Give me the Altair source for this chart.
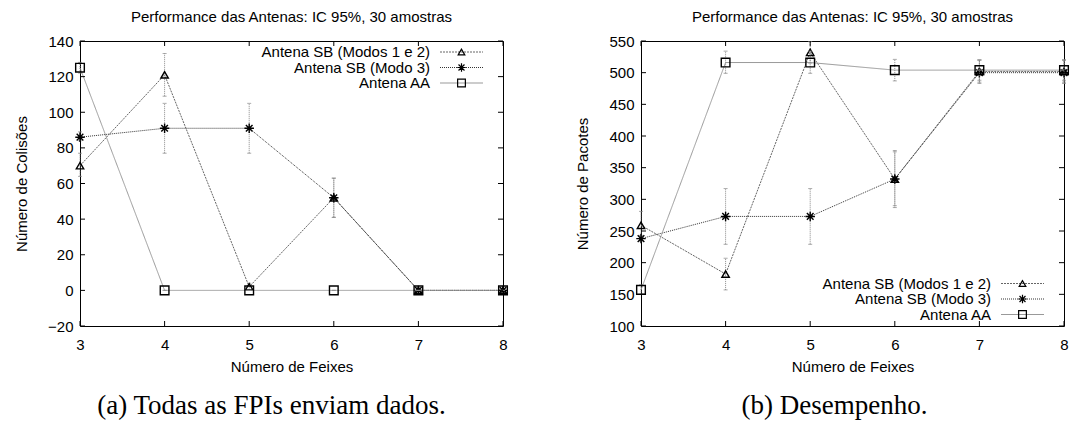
import altair as alt
import pandas as pd

# ---------------- data ----------------
beams = [3, 4, 5, 6, 7, 8]
series_names = ["Antena SB (Modos 1 e 2)", "Antena SB (Modo 3)", "Antena AA"]

# (a) Número de Colisões
col_sb12 = [70, 121, 2, 52, 0, 0]
col_sb12_lo = [64, 109, 0, 41, 0, 0]
col_sb12_hi = [77, 133, 4, 63, 0, 0]
col_sb3 = [86, 91, 91, 52, 0, 0]
col_sb3_lo = [84, 77, 77, 41, 0, 0]
col_sb3_hi = [89, 105, 105, 63, 0, 0]
col_aa = [125, 0, 0, 0, 0, 0]
col_aa_lo = [122, 0, 0, 0, 0, 0]
col_aa_hi = [128, 0, 0, 0, 0, 0]

# (b) Número de Pacotes
pac_sb12 = [259, 182, 532, 332, 502, 502]
pac_sb12_lo = [238, 157, 515, 290, 485, 485]
pac_sb12_hi = [281, 207, 549, 375, 520, 520]
pac_sb3 = [238, 273, 273, 332, 500, 500]
pac_sb3_lo = [234, 229, 229, 287, 483, 483]
pac_sb3_hi = [243, 317, 317, 377, 520, 520]
pac_aa = [157, 516, 516, 504, 504, 504]
pac_aa_lo = [150, 499, 499, 487, 488, 488]
pac_aa_hi = [165, 534, 534, 521, 520, 520]

left_ticks = [-20, 0, 20, 40, 60, 80, 100, 120, 140]
right_ticks = [100, 150, 200, 250, 300, 350, 400, 450, 500, 550]

title_text = "Performance das Antenas: IC 95%, 30 amostras"
x_title = "Número de Feixes"
captions = ["(a) Todas as FPIs enviam dados.", "(b) Desempenho."]

# ---------------- styling ----------------
W, H = 423, 285
FONT = "Liberation Sans"
FS = 15
line_colors = ["#666666", "#333333", "#999999"]
line_dash = [[2, 1], [1, 1], [1, 0]]
ASTERISK = "M-1,0L1,0M0,-1L0,1M-0.7,-0.7L0.7,0.7M-0.7,0.7L0.7,-0.7"
shapes = ["triangle-up", ASTERISK, "square"]
sizes = [55, 90, 75]


def make_df(vals, lo, hi):
    rows = []
    for s, v, l, h in zip(series_names, vals, lo, hi):
        for b, vv, ll, hh in zip(beams, v, l, h):
            rows.append({"series": s, "x": b, "y": vv, "lo": ll, "hi": hh})
    return pd.DataFrame(rows)


def panel(df, ydom, yticks, ytitle, legend_top, caption, cap_shift):
    xsc = alt.Scale(domain=[3, 8], nice=False)
    ysc = alt.Scale(domain=ydom, nice=False, zero=False)
    xax = alt.Axis(values=beams, title=x_title, format="d", labelOverlap=False)
    yax = alt.Axis(values=yticks, title=ytitle, labelOverlap=False, format="d")

    def X(f="x"):
        return alt.X(f"{f}:Q", scale=xsc, axis=xax)

    def Y(f="y"):
        return alt.Y(f"{f}:Q", scale=ysc, axis=yax)

    layers = []
    for i, s in enumerate(series_names):
        d = df[df.series == s]
        base = alt.Chart(d)
        line = base.mark_line(color=line_colors[i], strokeDash=line_dash[i], strokeWidth=1).encode(
            x=X(), y=Y())
        err = base.mark_rule(color="#888888", strokeWidth=1, strokeDash=[1, 1]).encode(
            x=X(), y=Y("lo"), y2="hi:Q")
        cap_lo = base.mark_tick(color="#888888", size=4, thickness=1, orient="horizontal").encode(
            x=X(), y=Y("lo"))
        cap_hi = base.mark_tick(color="#888888", size=4, thickness=1, orient="horizontal").encode(
            x=X(), y=Y("hi"))
        pts = base.mark_point(shape=shapes[i], filled=False, color="black", size=sizes[i],
                              strokeWidth=1.4, opacity=1).encode(x=X(), y=Y())
        layers += [line, err, cap_lo, cap_hi, pts]

    # inner ticks (gnuplot style) on all four sides
    xt = pd.DataFrame({"x": beams})
    yt = pd.DataFrame({"y": yticks})
    layers.append(alt.Chart(xt).mark_rule(color="black").encode(
        x=X(), y=alt.value(H), y2=alt.value(H - 5)))
    layers.append(alt.Chart(xt).mark_rule(color="black").encode(
        x=X(), y=alt.value(0), y2=alt.value(5)))
    layers.append(alt.Chart(yt).mark_rule(color="black").encode(
        y=Y(), x=alt.value(0), x2=alt.value(5)))
    layers.append(alt.Chart(yt).mark_rule(color="black").encode(
        y=Y(), x=alt.value(W), x2=alt.value(W - 5)))

    # gnuplot-like key
    for i, s in enumerate(series_names):
        yy = legend_top + 15.5 * i
        one = pd.DataFrame({"label": [s]})
        layers.append(alt.Chart(one).mark_text(align="right", baseline="middle", font=FONT,
                                               fontSize=FS, color="black").encode(
            text="label:N", x=alt.value(350), y=alt.value(yy)))
        layers.append(alt.Chart(one).mark_rule(color=line_colors[i], strokeDash=line_dash[i],
                                               strokeWidth=1).encode(
            x=alt.value(360), x2=alt.value(403), y=alt.value(yy)))
        layers.append(alt.Chart(one).mark_point(shape=shapes[i], filled=False, color="black",
                                                size=sizes[i] * 0.8, strokeWidth=1.2, opacity=1).encode(
            x=alt.value(381.5), y=alt.value(yy)))

    capdf = pd.DataFrame({"c": [caption]})
    layers.append(alt.Chart(capdf).mark_text(font="Liberation Serif", fontSize=27,
                                             baseline="middle", align="center",
                                             color="black").encode(
        text="c:N", x=alt.value(W / 2 + cap_shift), y=alt.value(H + 80)))

    return alt.layer(*layers).properties(
        width=W, height=H,
        title=alt.TitleParams(title_text, font=FONT, fontSize=FS, fontWeight="normal",
                              offset=9, anchor="middle"))


dfa = make_df([col_sb12, col_sb3, col_aa], [col_sb12_lo, col_sb3_lo, col_aa_lo],
              [col_sb12_hi, col_sb3_hi, col_aa_hi])
dfb = make_df([pac_sb12, pac_sb3, pac_aa], [pac_sb12_lo, pac_sb3_lo, pac_aa_lo],
              [pac_sb12_hi, pac_sb3_hi, pac_aa_hi])

left = panel(dfa, [-20, 140], left_ticks, "Número de Colisões", 11, captions[0], -20)
right = panel(dfb, [100, 550], right_ticks, "Número de Pacotes", 242.5, captions[1], -18)

chart = alt.hconcat(left, right, spacing=63).properties(
    padding={"left": 6, "top": 1, "right": 0, "bottom": 0}
).configure_view(stroke="black", strokeWidth=1).configure_axis(
    domain=False, ticks=False, grid=False, labelFont=FONT, labelFontSize=FS,
    labelColor="black", titleFont=FONT, titleFontSize=FS, titleFontWeight="normal",
    titleColor="black", labelOverlap=False, labelFlush=False
).configure_axisY(titlePadding=18, labelPadding=7).configure_axisX(titlePadding=7, labelPadding=11)

chart.save("out.html", embed_options={"renderer": "svg", "actions": False})
